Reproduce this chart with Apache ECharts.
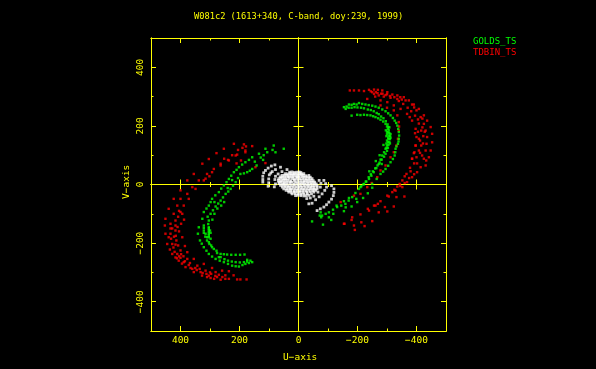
<!DOCTYPE html>
<html>
<head>
<meta charset="utf-8">
<style>html,body{margin:0;padding:0;background:#000}#chart{width:596px;height:369px}</style>
<script src="https://cdn.jsdelivr.net/npm/echarts@6/dist/echarts.min.js"></script>
</head>
<body>
<div id="chart"></div>
<script>
const titleText = "W081c2 (1613+340, C-band, doy:239, 1999)";
const majorTicks = [-400, -200, 0, 200, 400];
const minorTicks = [-300, -100, 100, 300];

// [u, v], right hand lobe then left hand lobe
const goldsRight = [
  [-154,264],[-163,266],[-171,273],[-180,272],[-188,275],[-197,273],[-205,278],[-216,275],[-227,273],[-238,271],[-250,269],[-261,266],[-272,262],[-284,256],[-295,250],[-304,243],[-312,236],[-320,227],[-326,218],[-331,210],[-335,201],[-338,190],[-340,179],[-341,167],[-340,156],[-339,147],[-337,139],[-332,130],[-329,122],[-328,110],[-326,99],[-320,87],[-312,76],[-304,64],[-295,53],[-287,44],[-278,36],[-265,19],[-250,2],
  [-160,258],[-170,262],[-180,262],[-190,264],[-200,263],[-212,262],[-222,260],[-235,256],[-245,254],[-255,250],[-265,244],[-272,240],[-280,232],[-288,226],[-296,216],[-302,205],[-305,196],[-306,185],[-308,175],[-310,165],[-310,155],[-308,145],[-305,135],[-303,125],[-300,115],[-295,105],[-290,95],[-282,85],[-275,75],[-268,65],[-260,55],[-252,45],[-245,35],[-238,25],[-228,10],[-220,0],
  [-180,235],[-199,238],[-210,237],[-222,238],[-233,237],[-244,236],[-253,233],[-261,230],[-270,226],[-278,221],[-287,215],[-295,207],[-300,198],[-303,190],[-305,178],[-306,167],[-305,155],[-303,144],[-300,133],[-295,122],[-290,110],[-284,99],[-278,85],[-272,70],[-264,56],[-255,42],[-247,30],[-239,19],[-230,10],[-222,2],[-213,-6],[-205,-15],[-193,-29],[-182,-43],[-170,-55],[-159,-66],[-145,-72],[-131,-77],[-117,-86],[-103,-95],[-92,-100],[-80,-106],[-46,-126],[-83,-137],
  [-300,180],[-312,172],[-298,165],[-312,160],[-300,150],[-310,140],[-298,140],[-300,172],[-304,160],[-296,185],[-308,195],[-298,125],[-288,135],[-275,100],[-282,70],[-262,80],[-240,45],
  [-171,-46],[-196,-49],[-180,-75],[-154,-57],[-154,-91],[-129,-72],[-111,-121],[-103,-112],[-72,-106],[-77,-112],[-210,-9],[-235,-30],[-250,-11],[-219,-46],[-199,-60],[-160,-78],[-118,-100],[-75,-95]
];
const goldsLeft = [
  [338,-146],[341,-168],[334,-191],[328,-202],[321,-214],[312,-226],[304,-237],[293,-246],[281,-254],[267,-260],[253,-265],[239,-271],[225,-277],[213,-279],[202,-280],[190,-275],[180,-271],[168,-268],[157,-265],[174,-257],
  [326,-117],[321,-94],[312,-82],[304,-72],[298,-60],[293,-49],[282,-37],[270,-26],[262,-14],[253,-3],[244,8],[236,19],[228,30],[219,42],[210,50],[202,59],[191,68],[180,76],[168,84],[157,93],[134,105],[106,110],[78,110],[50,122],[84,133],[112,122],
  [304,-123],[306,-135],[304,-146],[300,-157],[315,-168],[310,-180],[304,-197],[296,-208],[287,-220],[276,-234],[264,-248],[251,-255],[239,-260],[226,-263],[213,-265],[199,-266],[185,-265],[174,-263],[163,-260],
  [298,-100],[290,-88],[281,-75],[272,-65],[264,-55],[256,-44],[247,-32],[238,-24],[230,-15],[222,-4],[213,8],[205,22],[197,36],[185,38],[174,42],[165,47],[157,53],[142,65],
  [321,-140],[321,-148],[321,-157],[321,-165],[316,-178],[310,-191],[302,-203],[293,-214],[278,-226],[264,-237],[253,-238],[242,-239],[228,-240],[213,-240],[198,-240],[183,-239],[270,-248],
  [304,-150],[304,-156],[304,-162],[304,-168],[304,-174],[304,-180],[298,-165],[298,-185],[292,-120],[308,-110],[285,-100],[275,-82],[262,-72],[252,-60],[285,-60],[240,-12],[225,15],[148,78],[128,92],[118,100],[120,84],[88,118]
];
const tdbinRight = [
  [-174,321],[-188,321],[-205,321],[-222,319],[-239,323],[-256,324],[-269,323],[-284,321],[-301,315],[-318,307],[-335,304],[-357,298],[-374,287],[-391,273],[-408,258],[-425,236],[-436,218],[-448,196],[-453,173],[-453,144],[-448,116],[-442,93],[-431,65],
  [-233,292],[-256,309],[-272,304],[-289,300],[-312,296],[-335,292],[-350,290],[-363,287],[-385,273],[-392,263],[-400,253],[-414,230],[-425,207],[-431,184],[-436,162],[-434,139],[-431,116],[-425,88],[-414,59],[-402,42],[-385,25],[-368,8],[-352,-9],[-329,-21],
  [-278,287],[-301,281],[-323,270],[-346,258],[-368,241],[-377,230],[-385,218],[-397,190],[-400,162],[-397,133],[-393,110],[-385,88],[-378,57],[-366,36],[-352,14],[-335,-7],[-318,-26],[-301,-38],[-278,-57],[-261,-72],[-235,-83],[-210,-102],[-182,-112],[-154,-134],
  [-278,270],[-300,262],[-323,253],[-335,236],[-340,213],[-341,198],[-340,184],[-337,156],[-332,133],[-323,110],[-312,93],[-295,65],[-278,48],[-267,25],[-248,5],[-233,-9],[-210,-32],[-188,-38],[-143,-60],
  [-408,208],[-416,184],[-423,165],[-408,156],[-416,133],[-397,133],[-408,116],[-391,107],[-400,93],[-385,88],[-419,99],[-433,82],[-405,180],[-420,195],[-412,150],[-395,175],[-402,72],[-392,72],[-345,298],[-300,308],[-285,310],[-262,315],[-268,312],[-245,318],
  [-250,315],[-260,300],[-280,310],[-295,305],[-310,302],[-325,298],[-340,285],[-355,275],[-370,262],[-382,250],[-395,235],[-405,222],[-420,225],[-428,180],[-422,140],[-412,108],[-380,45],[-360,28],[-343,2],
  [-256,-72],[-269,-66],[-306,-41],[-332,-43],[-359,-41],[-323,-75],[-293,-77],[-272,-95],[-301,-92],[-239,-89],[-213,-129],[-250,-125],[-224,-142],[-188,-140],[-191,-155],[-156,-134],[-180,-121],[-325,-18],[-345,-5],[-360,5],[-375,22],[-392,35]
];
const tdbinLeft = [
  [451,-117],[453,-140],[451,-168],[445,-203],[436,-222],[428,-237],[417,-249],[406,-260],[383,-282],[355,-299],[327,-311],[298,-319],[264,-325],[236,-322],[208,-324],[176,-324],
  [440,-83],[423,-49],[400,-20],[377,14],[355,36],[326,71],[304,87],[278,107],[253,122],[219,139],[185,137],[157,131],
  [434,-134],[434,-150],[434,-168],[432,-185],[428,-203],[411,-237],[389,-265],[360,-288],[332,-299],[304,-311],[276,-316],[248,-322],
  [423,-100],[411,-72],[400,-49],[377,-32],[360,-9],[338,14],[310,36],[287,53],[264,65],[236,82],[213,99],[180,110],
  [417,-123],[417,-140],[417,-157],[416,-175],[414,-191],[408,-208],[400,-225],[377,-254],[343,-277],[315,-294],[281,-299],[236,-296],
  [400,-94],[389,-72],[372,-49],[349,-15],[321,14],[293,42],[264,71],[239,84],[208,102],[180,116],
  [398,-134],[394,-180],[385,-210],[377,-231],[355,-254],[321,-271],[293,-285],[259,-294],
  [394,-100],[388,-120],[410,-145],[422,-178],[417,-205],[405,-245],[395,-270],[366,-285],[310,-316],[282,-312],[248,-310],[197,-324],[400,-250],[390,-245],[372,-275],[350,-285],[325,-302],[300,-300],[270,-308],[220,-310],[408,-110],[405,-90],[296,-305],
  [420,-230],[412,-252],[398,-238],[385,-262],[368,-268],[345,-292],[335,-288],[312,-305],[286,-322],[258,-316],[428,-150],[405,-160],[440,-180],[424,-215],
  [315,20],[302,28],[146,59],[112,73],[210,72],[195,82],[205,118],[225,100],[252,88],[190,125],[178,130]
];
const calibrators = [
  [30,42],[22,43],[14,41],[6,42],[-2,43],[-8,41],
  [44,37],[36,36],[28,37],[20,36],[12,37],[4,36],[-4,37],[-11,36],[-18,37],
  [56,31],[48,32],[40,31],[32,30],[24,32],[16,31],[8,30],[0,31],[-8,32],[-16,31],[-24,30],[-35,31],
  [62,26],[54,25],[46,26],[36,26],[26,25],[18,26],[6,26],[-2,25],[-12,26],[-20,25],[-30,26],[-40,25],
  [67,20],[59,21],[50,19],[42,20],[32,21],[20,20],[12,19],[4,21],[-6,20],[-16,19],[-26,20],[-36,21],[-46,20],
  [68,14],[60,13],[52,14],[44,15],[36,14],[26,13],[14,14],[2,15],[-8,14],[-18,13],[-26,14],[-34,15],[-42,14],[-50,13],
  [67,8],[58,9],[48,7],[40,8],[30,9],[22,8],[10,9],[0,8],[-10,7],[-20,8],[-30,9],[-38,8],[-46,7],[-55,8],
  [65,3],[56,2],[48,3],[38,2],[28,3],[16,2],[6,3],[-4,2],[-14,3],[-22,2],[-32,3],[-42,2],[-52,3],[-60,2],
  [61,-3],[52,-2],[44,-3],[34,-4],[24,-3],[14,-2],[2,-3],[-8,-4],[-18,-3],[-28,-2],[-36,-3],[-46,-4],[-54,-3],[-63,-3],
  [55,-9],[46,-8],[36,-9],[28,-10],[18,-9],[8,-8],[-2,-9],[-12,-10],[-22,-9],[-32,-8],[-42,-9],[-52,-10],[-63,-9],
  [50,-15],[40,-14],[30,-15],[22,-16],[12,-15],[2,-14],[-8,-15],[-18,-16],[-28,-15],[-38,-14],[-46,-15],[-54,-16],[-63,-15],
  [42,-20],[34,-21],[26,-20],[14,-21],[4,-20],[-6,-21],[-16,-20],[-26,-21],[-36,-20],[-48,-21],[-58,-20],
  [33,-26],[24,-27],[14,-26],[4,-25],[-6,-26],[-16,-27],[-28,-26],[-40,-25],[-52,-26],
  [22,-32],[12,-31],[2,-32],[-8,-33],[-18,-32],[-30,-31],[-44,-32],
  [10,-38],[2,-37],[-8,-38],[-18,-39],[-26,-38],[-35,-37],
  [121,17],[121,28],[118,40],[112,48],[103,56],[92,63],[80,67],[121,8],
  [101,6],[101,19],[99,33],[94,39],[89,44],[78,51],[61,59],[103,-6],
  [78,2],[80,17],[78,28],[69,36],[56,44],[39,51],[82,-8],
  [-63,-89],[-74,-83],[-86,-77],[-95,-69],[-103,-60],[-112,-50],[-118,-38],[-120,-27],[-120,-15],[-112,-4],
  [-35,-66],[-46,-64],[-58,-52],[-70,-42],[-80,-32],[-89,-20],[-95,-9],[-92,3],[-86,14],
  [-28,-48],[-40,-46],[-52,-40],[-66,-26],[-74,-9],[-76,4],[-70,14]
];

const golds = goldsRight.concat(goldsLeft);
const tdbin = tdbinRight.concat(tdbinLeft);

const yellow = "#ffff00";
const monoFont = "'DejaVu Sans Mono', monospace";

// one axis per side and tick length, pgplot draws ticks on the box and on both zero lines
function makeAxis(dim, position, onZero, inside, values, len, labels) {
  const axis = {
    type: "value",
    min: -500,
    max: 500,
    position: position,
    inverse: dim === "x",
    splitLine: { show: false },
    axisLine: {
      show: true,
      onZero: onZero,
      lineStyle: { color: yellow, width: 1 },
    },
    axisTick: {
      show: true,
      inside: inside,
      length: len,
      customValues: values,
      lineStyle: { color: yellow, width: 1 },
    },
    axisLabel: { show: false },
  };
  if (labels) {
    axis.axisLabel = {
      show: true,
      customValues: majorTicks,
      color: yellow,
      fontFamily: monoFont,
      fontSize: 9.5,
      margin: 5,
      rotate: dim === "y" ? 90 : 0,
      formatter: (v) => String(v).replace("-", "\u2212"),
    };
  }
  return axis;
}

function makeAxes(dim, low, high) {
  return [
    makeAxis(dim, low, false, true, majorTicks, 5, true),
    makeAxis(dim, low, false, true, minorTicks, 2.5),
    makeAxis(dim, high, false, true, majorTicks, 5),
    makeAxis(dim, high, false, true, minorTicks, 2.5),
    makeAxis(dim, low, true, true, majorTicks, 5),
    makeAxis(dim, low, true, true, minorTicks, 2.5),
    makeAxis(dim, low, true, false, majorTicks, 5),
    makeAxis(dim, low, true, false, minorTicks, 2.5),
  ];
}

function makeDots(name, data, color, size) {
  return {
    name: name,
    type: "scatter",
    data: data,
    symbol: "rect",
    symbolSize: size,
    itemStyle: { color: color },
    silent: true,
    animation: false,
  };
}

const chart = echarts.init(document.getElementById("chart"), null, { renderer: "canvas" });
const option = {
  backgroundColor: "#000000",
  animation: false,
  grid: { left: 151, right: 150, top: 38, bottom: 38 },
  title: {
    text: titleText,
    left: 194,
    top: 12,
    padding: 0,
    textStyle: { color: yellow, fontFamily: monoFont, fontSize: 8.7, fontWeight: "normal" },
  },
  legend: {
    left: 473,
    top: 37,
    orient: "vertical",
    padding: 0,
    itemGap: 2,
    itemWidth: 0,
    itemHeight: 9,
    icon: "none",
    selectedMode: false,
    data: ["GOLDS_TS", "TDBIN_TS"],
    textStyle: { color: "inherit", fontFamily: monoFont, fontSize: 9, padding: [0, 0, 0, -5] },
  },
  xAxis: makeAxes("x", "bottom", "top"),
  yAxis: makeAxes("y", "left", "right"),
  series: [
    makeDots("TDBIN_TS", tdbin, "#ff0000", 2.4),
    makeDots("GOLDS_TS", golds, "#00ff00", 2.4),
    makeDots("calibrators", calibrators, "#ffffff", 2.8),
  ],
  graphic: [
    {
      type: "text",
      left: 283,
      top: 353,
      style: { text: "U\u2212axis", fill: yellow, font: "9.5px " + monoFont },
    },
    {
      type: "text",
      x: 122,
      y: 199,
      rotation: Math.PI / 2,
      style: { text: "V\u2212axis", fill: yellow, font: "9.5px " + monoFont },
    },
  ],
};
chart.setOption(option);
</script>
</body>
</html>
